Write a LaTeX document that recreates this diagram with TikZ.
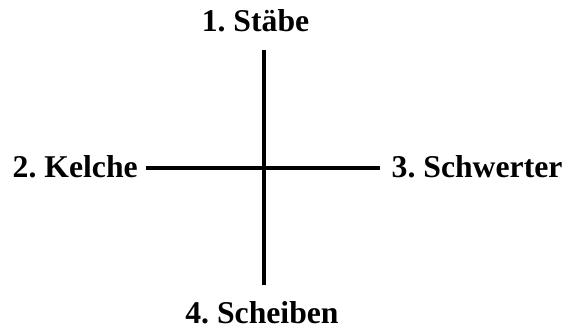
\documentclass[tikz,border=0pt]{standalone}
\usepackage{fontspec}
\setmainfont{Liberation Serif}
\frenchspacing
\begin{document}
\begin{tikzpicture}[x=1pt, y=-1pt,
    label/.style={font=\fontsize{31.7}{36}\selectfont\bfseries, inner sep=0pt},
    arm/.style={line width=4pt}]
    \useasboundingbox (0,0) rectangle (566,333);

    % Beschriftungen
    \node[label, anchor=base] (staebe) at (255.5,31) {1. Stäbe};
    \node[label, anchor=base west] (kelche) at (12.5,177) {2. Kelche};
    \node[label, anchor=base west] (schwerter) at (391.5,177.5) {3. Schwerter};
    \node[label, anchor=base] (scheiben) at (262,323) {4. Scheiben};

    % Enden des Kreuzes
    \coordinate (oben) at (263.5,50);
    \coordinate (unten) at (263.5,285);
    \coordinate (links) at (146,167.5);
    \coordinate (rechts) at (380,167.5);

    % Kreuz
    \draw[arm] (oben) -- (unten);
    \draw[arm] (links) -- (rechts);
\end{tikzpicture}
\end{document}
